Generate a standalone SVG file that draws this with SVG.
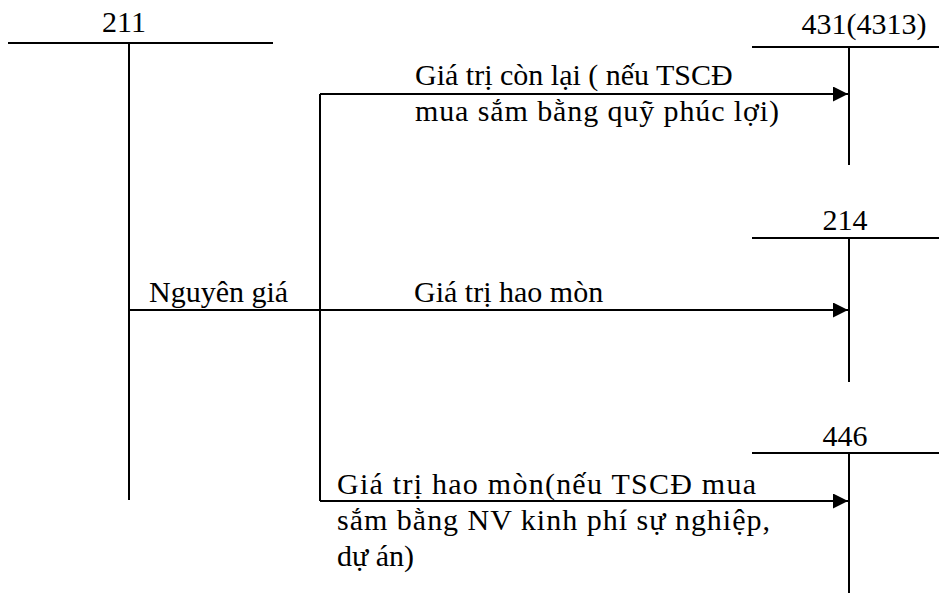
<svg xmlns="http://www.w3.org/2000/svg" width="939" height="597" viewBox="0 0 939 597">
  <style>
    .ln { stroke: #000; stroke-width: 2; fill: none; }
    .t { font-family: "Liberation Serif", "DejaVu Serif", serif; font-size: 30px; fill: #000; }
    .c { text-anchor: middle; }
  </style>
  <defs>
    <marker id="arr" markerUnits="userSpaceOnUse" markerWidth="16" markerHeight="16" refX="15" refY="7.5" orient="auto">
      <path d="M0,0 L15,7.5 L0,15 Z" fill="#000"/>
    </marker>
  </defs>
  <rect width="939" height="597" fill="#fff"/>

  <!-- T-account 211 -->
  <g id="acc-211">
    <line class="ln" x1="8" y1="43" x2="273" y2="43"/>
    <line class="ln" x1="129" y1="43" x2="129" y2="500"/>
    <text class="t c" x="124" y="32">211</text>
  </g>

  <!-- T-account 431(4313) -->
  <g id="acc-431">
    <line class="ln" x1="752" y1="47" x2="939" y2="47"/>
    <line class="ln" x1="849" y1="47" x2="849" y2="165"/>
    <text class="t c" x="864" y="34">431(4313)</text>
  </g>

  <!-- T-account 214 -->
  <g id="acc-214">
    <line class="ln" x1="752" y1="238" x2="939" y2="238"/>
    <line class="ln" x1="849" y1="238" x2="849" y2="382"/>
    <text class="t c" x="845" y="230">214</text>
  </g>

  <!-- T-account 446 -->
  <g id="acc-446">
    <line class="ln" x1="752" y1="453" x2="939" y2="453"/>
    <line class="ln" x1="849" y1="453" x2="849" y2="593"/>
    <text class="t c" x="845" y="446">446</text>
  </g>

  <!-- Entries -->
  <g id="connectors">
    <line class="ln" x1="320" y1="94" x2="320" y2="501"/>
    <line class="ln" x1="320" y1="94" x2="848" y2="94" marker-end="url(#arr)"/>
    <line class="ln" x1="129" y1="310" x2="848" y2="310" marker-end="url(#arr)"/>
    <line class="ln" x1="320" y1="501" x2="848" y2="501" marker-end="url(#arr)"/>
  </g>

  <g id="labels">
    <text class="t" x="415" y="85">Giá trị còn lại ( nếu TSCĐ</text>
    <text class="t" x="415" y="121" textLength="364">mua sắm bằng quỹ phúc lợi)</text>
    <text class="t" x="149" y="302">Nguyên giá</text>
    <text class="t" x="414" y="302">Giá trị hao mòn</text>
    <text class="t" x="337" y="494" textLength="419">Giá trị hao mòn(nếu TSCĐ mua</text>
    <text class="t" x="337" y="530" textLength="433">sắm bằng NV kinh phí sự nghiệp,</text>
    <text class="t" x="337" y="566">dự án)</text>
  </g>
</svg>
